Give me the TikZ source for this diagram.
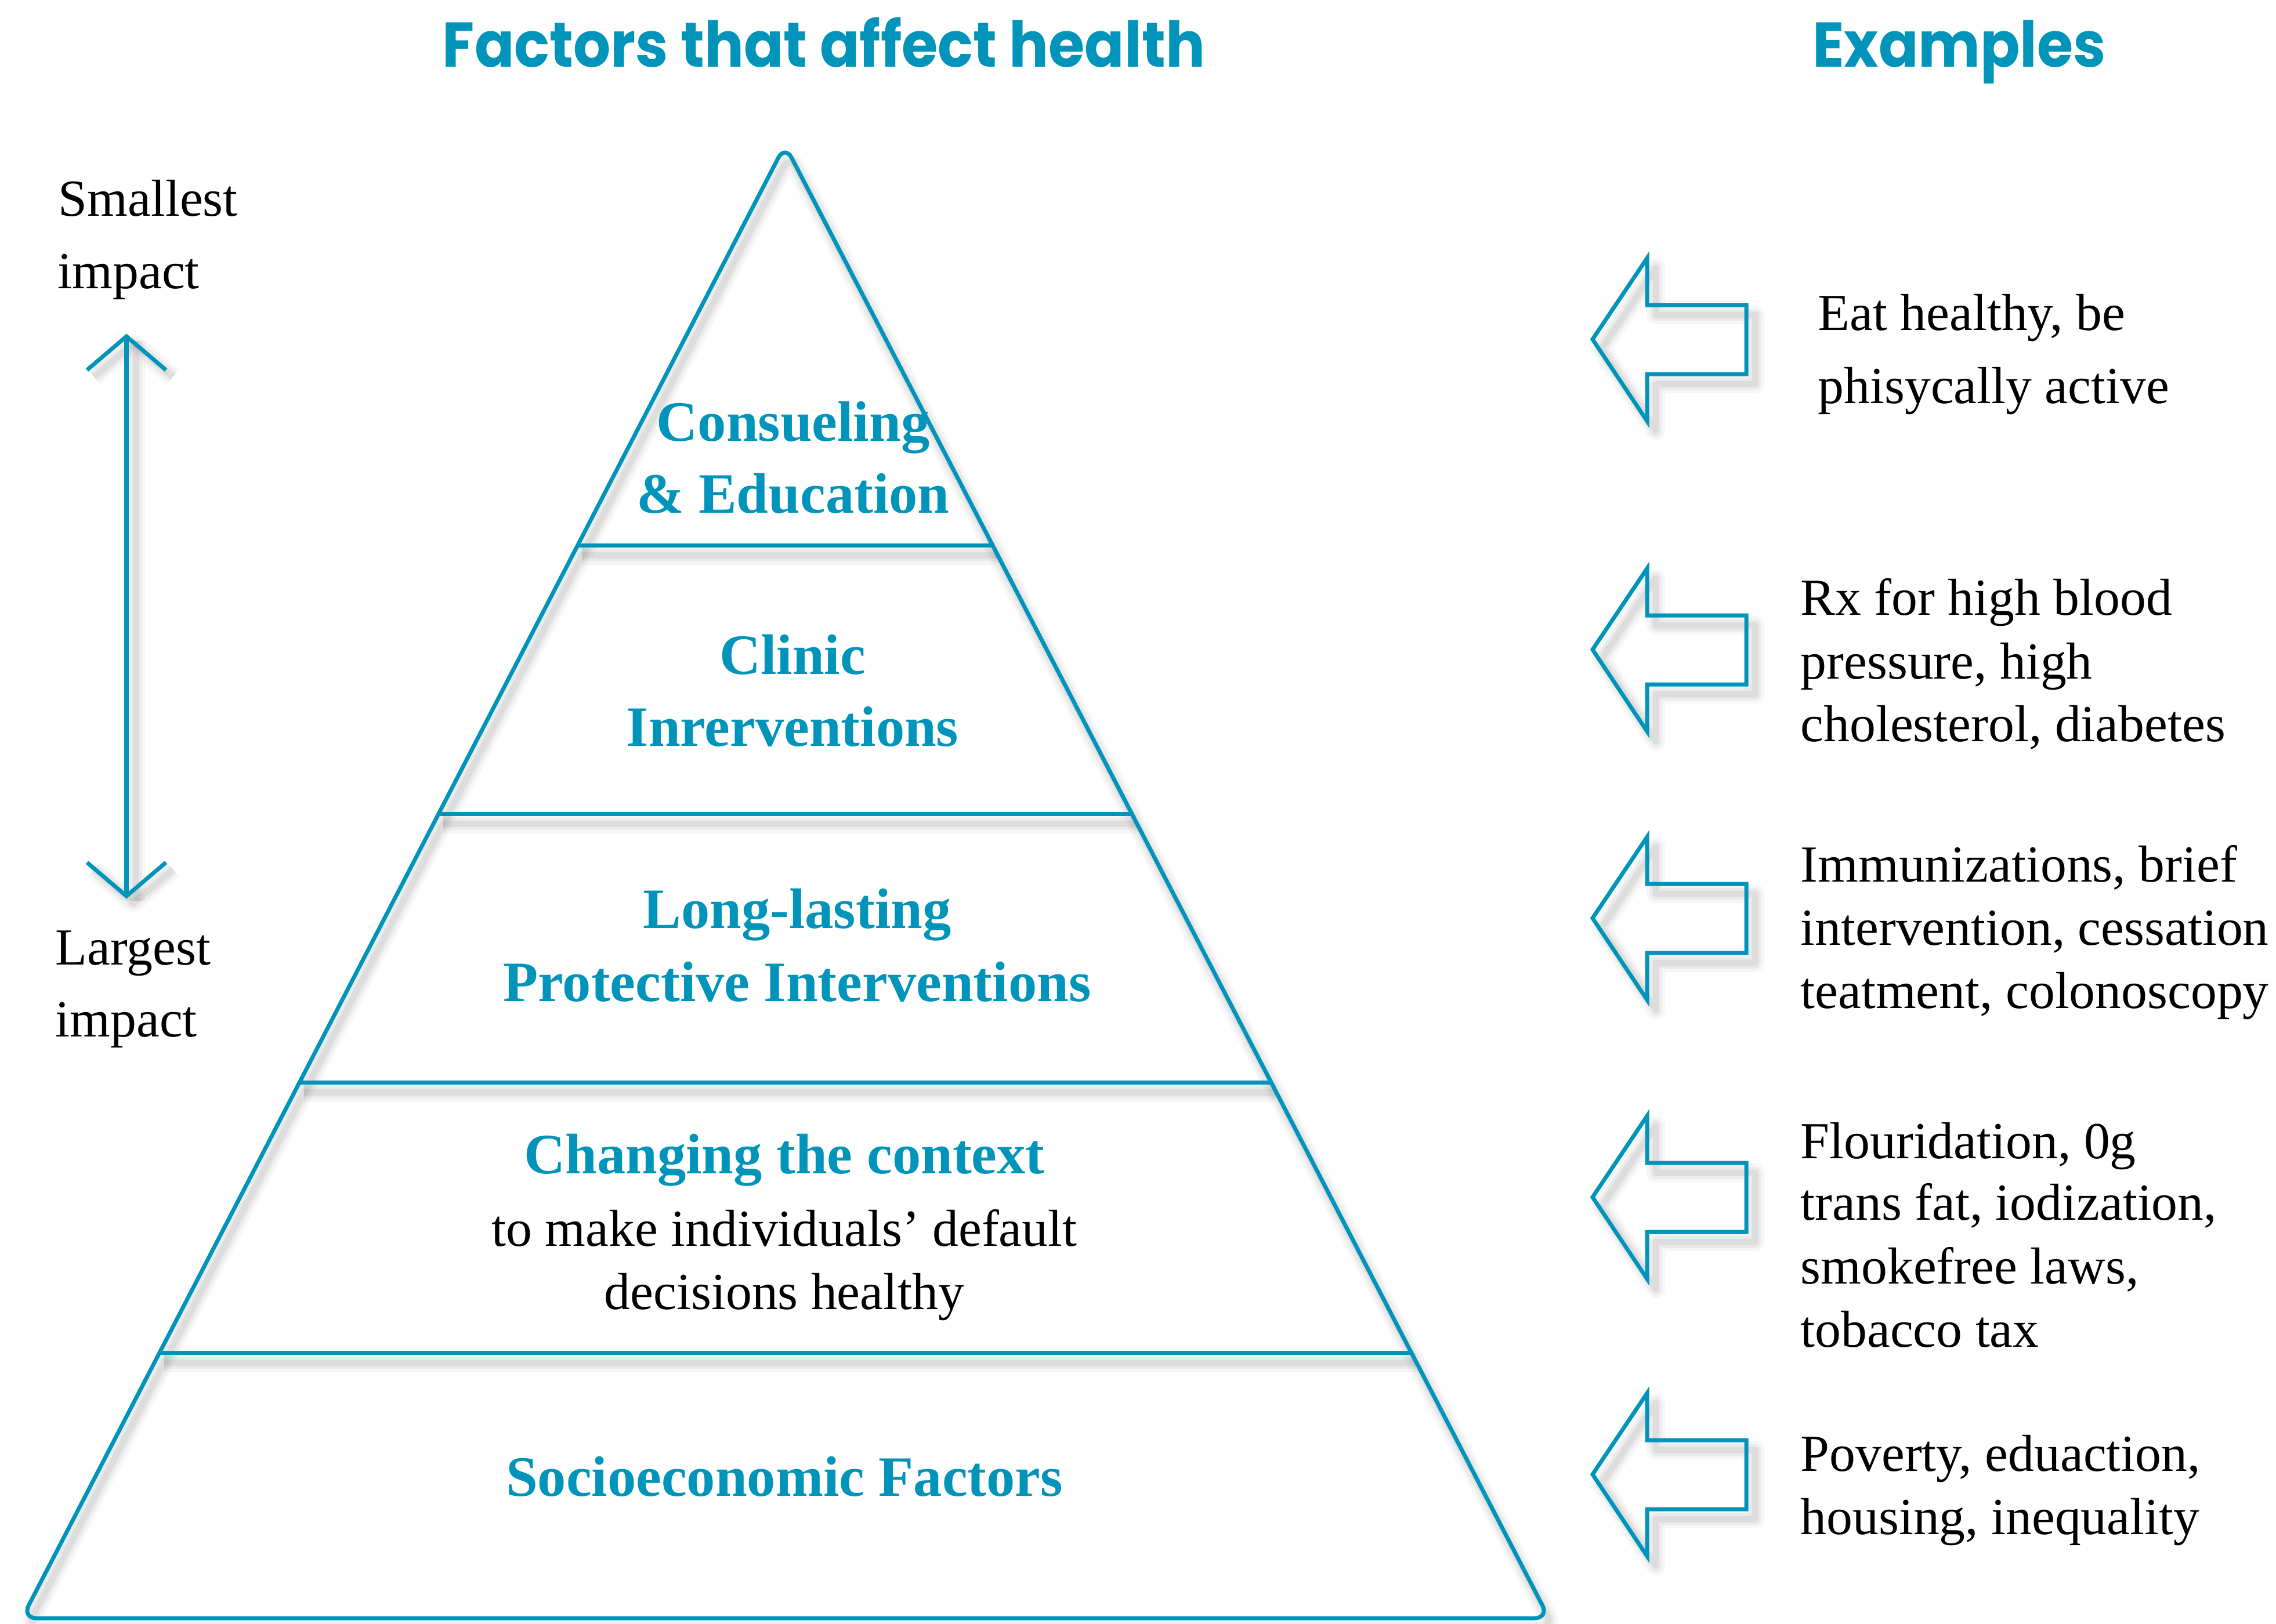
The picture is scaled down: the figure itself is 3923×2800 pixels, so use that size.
\documentclass[tikz,border=0pt]{standalone}
\usepackage{fontspec}
\setmainfont{Liberation Serif}
\newfontfamily\titlefont{Poppins}
\usetikzlibrary{calc}
\definecolor{hblue}{RGB}{0,148,186}
\newcommand\narrowtitle[1]{\scalebox{0.925}[1]{#1}}
\begin{document}
\begin{tikzpicture}[x=0.01cm,y=-0.01cm,
  blueline/.style={draw=hblue,line width=0.07cm},
  shadowed/.style={
    preaction={draw=black,draw opacity=.035,line width=.32cm,line join=round,transform canvas={shift={#1}}},
    preaction={draw=black,draw opacity=.045,line width=.21cm,line join=round,transform canvas={shift={#1}}},
    preaction={draw=black,draw opacity=.06,line width=.11cm,line join=round,transform canvas={shift={#1}}}},
  shadowed/.default={(0.08cm,-0.17cm)},
  titletext/.style={inner sep=0,anchor=base,text=hblue,font=\titlefont\bfseries\fontsize{31}{37}\selectfont},
  levellabel/.style={inner sep=0,anchor=base,text=hblue,font=\bfseries\fontsize{28}{33}\selectfont},
  plaincentered/.style={inner sep=0,anchor=base,font=\fontsize{25.5}{31}\selectfont},
  plainleft/.style={inner sep=0,anchor=base west,font=\fontsize{25.5}{31}\selectfont},
  blockarrow/.pic={
    \path[shadowed={(0.15cm,-0.17cm)}] (0,0) -- (94,-140) -- (94,-59) -- (265,-59) -- (265,60) -- (94,60) -- (94,141) -- cycle;
    \draw[blueline,line join=miter] (0,0) -- (94,-140) -- (94,-59) -- (265,-59) -- (265,60) -- (94,60) -- (94,141) -- cycle;
  }]
\useasboundingbox (0,0) rectangle (3923,2800);

% titles
\node[titletext] (title) at (1420,116) {\narrowtitle{Factors that affect health}};
\node[titletext] (extitle) at (3377,116) {\narrowtitle{Examples}};

% pyramid geometry
\coordinate (apex) at (1353,250);
\coordinate (pbl) at (38,2790);
\coordinate (pbr) at (2670,2790);

% shadows first
\path[shadowed,rounded corners=0.25cm] ($(pbl)!0.5!(pbr)$) -- (pbl) -- (apex) -- (pbr) -- cycle;
\foreach \t in {0.2720,0.4543,0.6366,0.8197}
  \path[shadowed] ($(apex)!\t!(pbl)$) -- ($(apex)!\t!(pbr)$);
% pyramid lines
\draw[blueline,rounded corners=0.25cm] ($(pbl)!0.5!(pbr)$) -- (pbl) -- (apex) -- (pbr) -- cycle;
\foreach \t in {0.2720,0.4543,0.6366,0.8197}
  \draw[blueline] ($(apex)!\t!(pbl)$) -- ($(apex)!\t!(pbr)$);

% pyramid labels
\node[levellabel] (cons1) at (1367,760) {Consueling};
\node[levellabel] (cons2) at (1367,884) {\& Education};
\node[levellabel] (clin1) at (1366,1162) {Clinic};
\node[levellabel] (clin2) at (1366,1286) {Inrerventions};
\node[levellabel] (long1) at (1374,1600) {Long-lasting};
\node[levellabel] (long2) at (1374,1726) {Protective Interventions};
\node[levellabel] (chg1) at (1352,2023) {Changing the context};
\node[plaincentered] (chg2) at (1352,2148) {to make individuals’ default};
\node[plaincentered] (chg3) at (1352,2257) {decisions healthy};
\node[levellabel] (soc) at (1352,2579) {Socioeconomic Factors};

% impact scale
\node[plainleft] (small1) at (100,372) {Smallest};
\node[plainleft] (small2) at (99,497) {impact};
\node[plainleft] (large1) at (95,1663) {Largest};
\node[plainleft] (large2) at (95,1787) {impact};
\coordinate (up) at (218,580);
\coordinate (dn) at (218,1545);
\path[shadowed={(0.16cm,-0.08cm)}] (up) -- (dn);
\path[shadowed={(0.12cm,-0.12cm)}] ($(up)+(-68,58)$) -- (up) -- ($(up)+(68,58)$);
\path[shadowed={(0.12cm,-0.12cm)}] ($(dn)+(-68,-58)$) -- (dn) -- ($(dn)+(68,-58)$);
\draw[blueline] (up) -- (dn);
\draw[blueline] ($(up)+(-68,58)$) -- (up) -- ($(up)+(68,58)$);
\draw[blueline] ($(dn)+(-68,-58)$) -- (dn) -- ($(dn)+(68,-58)$);

% example arrows
\pic at (2745,585) {blockarrow};
\pic at (2745,1120) {blockarrow};
\pic at (2745,1583) {blockarrow};
\pic at (2745,2064) {blockarrow};
\pic at (2745,2542) {blockarrow};

% examples
\node[plainleft] (ex1a) at (3133,569) {Eat healthy, be};
\node[plainleft] (ex1b) at (3133,695) {phisycally active};
\node[plainleft] (ex2a) at (3103,1060) {Rx for high blood};
\node[plainleft] (ex2b) at (3103,1170) {pressure, high};
\node[plainleft] (ex2c) at (3103,1278) {cholesterol, diabetes};
\node[plainleft] (ex3a) at (3103,1520) {Immunizations, brief};
\node[plainleft] (ex3b) at (3103,1629) {intervention, cessation};
\node[plainleft] (ex3c) at (3103,1738) {teatment, colonoscopy};
\node[plainleft] (ex4a) at (3103,1997) {Flouridation, 0g};
\node[plainleft] (ex4b) at (3103,2103) {trans fat, iodization,};
\node[plainleft] (ex4c) at (3103,2213) {smokefree laws,};
\node[plainleft] (ex4d) at (3103,2322) {tobacco tax};
\node[plainleft] (ex5a) at (3103,2536) {Poverty, eduaction,};
\node[plainleft] (ex5b) at (3103,2645) {housing, inequality};
\end{tikzpicture}
\end{document}
